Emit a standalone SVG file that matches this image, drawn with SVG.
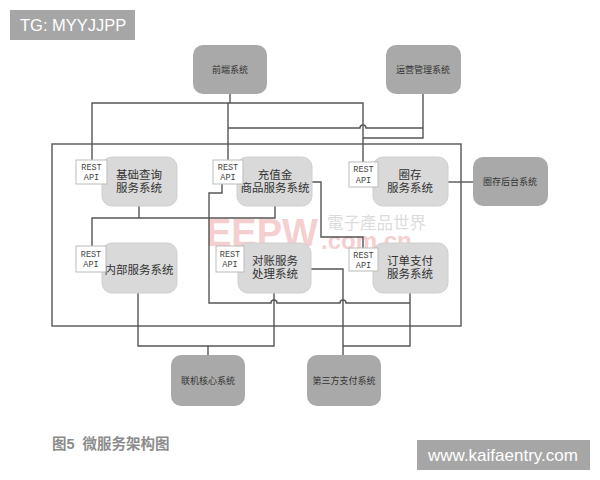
<svg xmlns="http://www.w3.org/2000/svg" width="600" height="480" viewBox="0 0 600 480">
<style>
.ext rect{fill:#a9a9a9;}
.ext text{font-family:"Liberation Serif","Noto Sans CJK SC",serif;font-size:9px;fill:#333;text-anchor:middle;}
.svc rect{fill:#d9d9d9;stroke:#cfcfcf;stroke-width:1;}
.svc text{font-family:"Liberation Serif","Noto Sans CJK SC",serif;font-size:11.5px;fill:#333;text-anchor:middle;}
.api rect{fill:#fff;stroke:#bbb;stroke-width:1;}
.api text{font-family:"Liberation Mono","Liberation Serif",monospace;font-size:8.5px;fill:#444;text-anchor:middle;}
.ln{fill:none;stroke:#555;stroke-width:1.4;}
.tag rect{fill:#a6a6a6;}
.tag text{font-family:"Liberation Sans",Arial,sans-serif;fill:#fff;}
.wm{font-family:"Liberation Sans",sans-serif;font-weight:bold;fill:#e88a8a;}
</style>
<rect width="600" height="480" fill="#fff"/>
<g id="watermark" opacity="0.4">
<text class="wm" x="206" y="246" font-size="38">EEPW</text>
<text x="327" y="229" font-family="Noto Sans CJK TC,sans-serif" font-size="16.5" fill="#aaa">電子產品世界</text>
<text class="wm" x="321" y="249" font-size="24">.com.cn</text>
</g>
<g id="frame"><rect x="52" y="144" width="409" height="182" class="ln"/></g>
<g id="connectors" class="ln">
<path d="M230,94 V103"/>
<path d="M92,160 V103 H363 V162"/>
<path d="M228,103 V160"/>
<path d="M228,128 H360 a3,3 0 0 1 6,0 H423"/>
<path d="M423,94 V138 H363"/>
<path d="M448,182 H473"/>
<path d="M139,206 V218"/>
<path d="M92,246 V218 H275 V206"/>
<path d="M222,184 V193 H209 V303 H271 a3,3 0 0 1 6,0 H340 a3,3 0 0 1 6,0 H410"/>
<path d="M311,182 H321 V237 H363 V248"/>
<path d="M410,293 V346 H343"/>
<path d="M311,269 H343 V355"/>
<path d="M138,293 V346 H274 V293"/>
<path d="M208,346 V355"/>
</g>
<g id="n-qianduan" class="ext"><rect x="193" y="45" width="74" height="49" rx="10"/><text x="230" y="73">前端系统</text></g>
<g id="n-yunying" class="ext"><rect x="386" y="45" width="75" height="49" rx="10"/><text x="423" y="73">运营管理系统</text></g>
<g id="n-quancunhoutai" class="ext"><rect x="473" y="157" width="75" height="49" rx="10"/><text x="510" y="185">圈存后台系统</text></g>
<g id="n-lianji" class="ext"><rect x="171" y="355" width="74" height="51" rx="10"/><text x="208" y="384">联机核心系统</text></g>
<g id="n-disanfang" class="ext"><rect x="307" y="355" width="74" height="51" rx="10"/><text x="344" y="384">第三方支付系统</text></g>
<g id="n-jichu" class="svc"><rect x="102" y="157" width="75" height="49" rx="10"/><text x="139" y="179">基础查询</text><text x="139" y="192">服务系统</text></g>
<g id="n-chongzhi" class="svc"><rect x="237" y="157" width="75" height="49" rx="10"/><text x="275" y="179">充值金</text><text x="275" y="192">商品服务系统</text></g>
<g id="n-quancun" class="svc"><rect x="373" y="157" width="75" height="49" rx="10"/><text x="410" y="179">圈存</text><text x="410" y="192">服务系统</text></g>
<g id="n-neibu" class="svc"><rect x="102" y="243" width="75" height="50" rx="10"/><text x="139" y="274">内部服务系统</text></g>
<g id="n-duizhang" class="svc"><rect x="238" y="243" width="73" height="50" rx="10"/><text x="275" y="265">对账服务</text><text x="275" y="278">处理系统</text></g>
<g id="n-dingdan" class="svc"><rect x="373" y="243" width="75" height="50" rx="10"/><text x="410" y="265">订单支付</text><text x="410" y="278">服务系统</text></g>
<g id="api-jichu" class="api"><rect x="76" y="160" width="31" height="24"/><text x="91.5" y="170">REST</text><text x="91.5" y="180">API</text></g>
<g id="api-chongzhi" class="api"><rect x="213" y="160" width="30" height="24"/><text x="228" y="170">REST</text><text x="228" y="180">API</text></g>
<g id="api-quancun" class="api"><rect x="349" y="162" width="29" height="25"/><text x="363.5" y="172">REST</text><text x="363.5" y="183">API</text></g>
<g id="api-neibu" class="api"><rect x="76" y="246" width="30" height="26"/><text x="91" y="257">REST</text><text x="91" y="267">API</text></g>
<g id="api-duizhang" class="api"><rect x="216" y="246" width="28" height="26"/><text x="230" y="257">REST</text><text x="230" y="267">API</text></g>
<g id="api-dingdan" class="api"><rect x="349" y="248" width="29" height="23"/><text x="363.5" y="258">REST</text><text x="363.5" y="268">API</text></g>
<text x="52" y="449" font-family="Liberation Sans,Noto Sans CJK SC,sans-serif" font-size="14.5" font-weight="bold" fill="#8c8c8c" xml:space="preserve">图5  微服务架构图</text>
<g id="tag-tg" class="tag"><rect x="10" y="10" width="125" height="30"/><text x="20" y="31" font-size="16.5">TG: MYYJJPP</text></g>
<g id="tag-site" class="tag"><rect x="417" y="440" width="173" height="30"/><text x="428" y="461" font-size="17">www.kaifaentry.com</text></g>
</svg>
